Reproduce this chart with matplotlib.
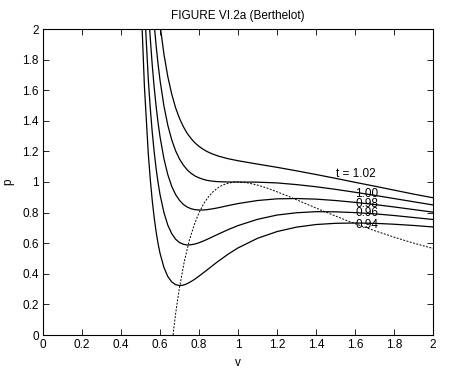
import numpy as np
import matplotlib
matplotlib.use("Agg")
import matplotlib.pyplot as plt

plt.rcParams['font.family'] = ['Liberation Sans', 'DejaVu Sans']

# reduced volume grid shared by the isotherms
v = [0.49, 0.50, 0.52, 0.54, 0.55, 0.56, 0.57, 0.58, 0.59, 0.60,
     0.62, 0.64, 0.66, 0.68, 0.70, 0.72, 0.74, 0.76, 0.78, 0.80,
     0.82, 0.84, 0.86, 0.88, 0.90, 0.95, 1.0, 1.1, 1.2, 1.3,
     1.4, 1.5, 1.6, 1.7, 1.8, 1.9, 2.0]

# isotherm pressures
p_102 = [5.112, 4.555, 3.694, 3.075, 2.831, 2.621, 2.440, 2.284, 2.148, 2.030,
         1.837, 1.689, 1.575, 1.485, 1.416, 1.361, 1.317, 1.283, 1.255, 1.233,
         1.215, 1.200, 1.188, 1.178, 1.169, 1.152, 1.139, 1.117, 1.096, 1.073,
         1.049, 1.024, 0.998, 0.973, 0.947, 0.921, 0.897]
p_100 = [4.526, 4.000, 3.191, 2.615, 2.390, 2.198, 2.034, 1.893, 1.771, 1.667,
         1.498, 1.371, 1.276, 1.204, 1.150, 1.110, 1.079, 1.056, 1.039, 1.027,
         1.018, 1.011, 1.007, 1.004, 1.002, 1.000, 1.000, 0.999, 0.994, 0.983,
         0.969, 0.952, 0.933, 0.913, 0.892, 0.871, 0.850]
p_098 = [3.931, 3.435, 2.679, 2.147, 1.942, 1.768, 1.620, 1.495, 1.388, 1.297,
         1.153, 1.048, 0.972, 0.918, 0.880, 0.853, 0.836, 0.825, 0.819, 0.817,
         0.817, 0.819, 0.823, 0.827, 0.832, 0.846, 0.859, 0.879, 0.890, 0.892,
         0.888, 0.879, 0.867, 0.853, 0.837, 0.820, 0.803]
p_096 = [3.325, 2.860, 2.157, 1.670, 1.485, 1.329, 1.199, 1.089, 0.997, 0.919,
         0.801, 0.718, 0.663, 0.626, 0.604, 0.593, 0.588, 0.590, 0.595, 0.603,
         0.613, 0.624, 0.636, 0.648, 0.660, 0.689, 0.715, 0.756, 0.784, 0.799,
         0.806, 0.805, 0.800, 0.792, 0.781, 0.768, 0.755]
p_094 = [2.708, 2.274, 1.626, 1.184, 1.019, 0.882, 0.769, 0.675, 0.598, 0.535,
         0.442, 0.382, 0.347, 0.329, 0.323, 0.326, 0.336, 0.350, 0.366, 0.385,
         0.404, 0.424, 0.444, 0.464, 0.483, 0.529, 0.569, 0.632, 0.676, 0.705,
         0.722, 0.730, 0.732, 0.730, 0.724, 0.716, 0.706]

# spinodal (dashed)
v_spin = [0.667, 0.670, 0.680, 0.690, 0.700, 0.725, 0.750, 0.775, 0.800, 0.825,
          0.850, 0.875, 0.900, 0.925, 0.950, 0.975, 1.000, 1.050, 1.100, 1.150,
          1.200, 1.250, 1.300, 1.350, 1.400, 1.450, 1.500, 1.550, 1.600, 1.650,
          1.700, 1.750, 1.800, 1.850, 1.900, 1.950, 2.000]
p_spin = [0.000, 0.036, 0.137, 0.228, 0.310, 0.483, 0.616, 0.719, 0.799, 0.860,
          0.906, 0.940, 0.965, 0.982, 0.992, 0.998, 1.000, 0.994, 0.980, 0.960,
          0.936, 0.911, 0.884, 0.857, 0.830, 0.804, 0.778, 0.752, 0.728, 0.705,
          0.682, 0.661, 0.640, 0.620, 0.601, 0.583, 0.566]

curves = [p_102, p_100, p_098, p_096, p_094]
labels = ["t = 1.02", "1.00", "0.98", "0.96", "0.94"]
label_xy = [(1.503, 1.052), (1.60, 0.92), (1.60, 0.856), (1.60, 0.80), (1.60, 0.72)]

fig = plt.figure(figsize=(4.49, 3.77), dpi=100)
ax = fig.add_axes([43/449, 1 - 335/377, 390/449, 306/377])

for p in curves:
    ax.plot(v, p, color='black', lw=0.9)
ax.plot(v_spin, p_spin, color='black', lw=0.7, dashes=(2, 1.5))

for s, (x, y) in zip(labels, label_xy):
    ax.text(x, y, s, fontsize=8.5, ha='left', va='center')

ax.set_xlim(0, 2)
ax.set_ylim(0, 2)
ticks = np.arange(0, 2.01, 0.2)
ticklabels = ["0", "0.2", "0.4", "0.6", "0.8", "1", "1.2", "1.4", "1.6", "1.8", "2"]
ax.set_xticks(ticks)
ax.set_xticklabels(ticklabels)
ax.set_yticks(ticks)
ax.set_yticklabels(ticklabels)
ax.tick_params(direction='in', top=True, right=True, length=4, width=0.6,
               labelsize=8.5, pad=3)
for sp in ax.spines.values():
    sp.set_linewidth(0.8)

ax.set_xlabel("v", fontsize=8.5, labelpad=4)
ax.set_ylabel("p", fontsize=8.5, labelpad=6)
ax.set_title("FIGURE VI.2a (Berthelot)", fontsize=8.5, pad=7)

fig.savefig("out.png")
